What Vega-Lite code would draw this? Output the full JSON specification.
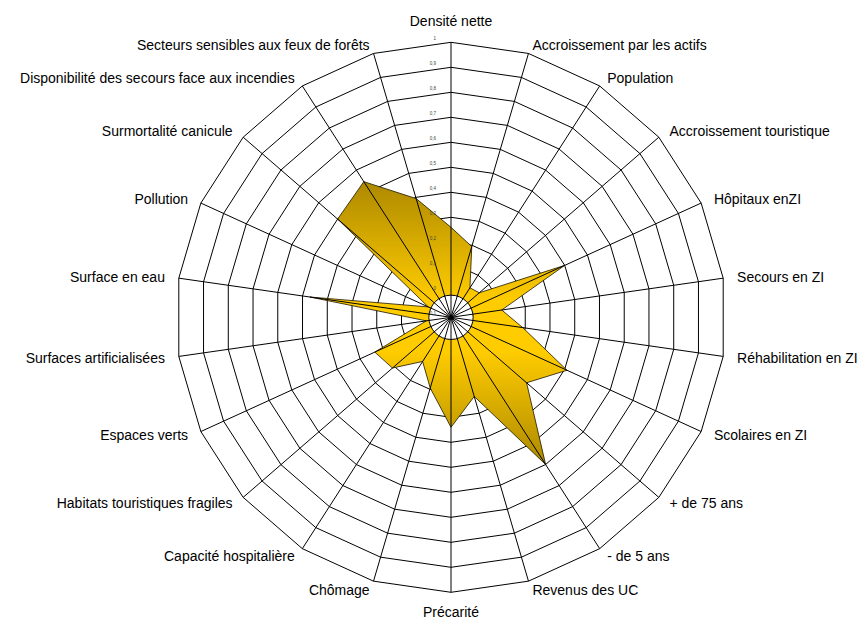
{
  "$schema": "https://vega.github.io/schema/vega-lite/v6.json",
  "width": 859,
  "height": 621,
  "padding": 0,
  "autosize": "none",
  "background": "white",
  "config": {"view": {"stroke": null}},
  "datasets": {
    "scores": [
      {"axis": "Densité nette", "i": 0, "value": 0.26},
      {"axis": "Accroissement par les actifs", "i": 1, "value": 0.195},
      {"axis": "Population", "i": 2, "value": 0.04},
      {"axis": "Accroissement touristique", "i": 3, "value": 0.05},
      {"axis": "Hôpitaux enZI", "i": 4, "value": 0.4},
      {"axis": "Secours en ZI", "i": 5, "value": 0.105},
      {"axis": "Réhabilitation en ZI", "i": 6, "value": 0.19},
      {"axis": "Scolaires en ZI", "i": 7, "value": 0.41},
      {"axis": "+ de 75 ans", "i": 8, "value": 0.3},
      {"axis": "- de 5 ans", "i": 9, "value": 0.6},
      {"axis": "Revenus des UC", "i": 10, "value": 0.23},
      {"axis": "Précarité", "i": 11, "value": 0.34},
      {"axis": "Chômage", "i": 12, "value": 0.195},
      {"axis": "Capacité hospitalière", "i": 13, "value": 0.11},
      {"axis": "Habitats touristiques fragiles", "i": 14, "value": 0.21},
      {"axis": "Espaces verts", "i": 15, "value": 0.235},
      {"axis": "Surfaces artificialisées", "i": 16, "value": 0.0},
      {"axis": "Surface en eau", "i": 17, "value": 0.47},
      {"axis": "Pollution", "i": 18, "value": 0.0},
      {"axis": "Surmortalité canicule", "i": 19, "value": 0.5},
      {"axis": "Disponibilité des secours face aux incendies", "i": 20, "value": 0.545},
      {"axis": "Secteurs sensibles aux feux de forêts", "i": 21, "value": 0.395}
    ],
    "grid": [
      {"level": 0, "i": [0,1,2,3,4,5,6,7,8,9,10,11,12,13,14,15,16,17,18,19,20,21]},
      {"level": 0.1, "i": [0,1,2,3,4,5,6,7,8,9,10,11,12,13,14,15,16,17,18,19,20,21]},
      {"level": 0.2, "i": [0,1,2,3,4,5,6,7,8,9,10,11,12,13,14,15,16,17,18,19,20,21]},
      {"level": 0.3, "i": [0,1,2,3,4,5,6,7,8,9,10,11,12,13,14,15,16,17,18,19,20,21]},
      {"level": 0.4, "i": [0,1,2,3,4,5,6,7,8,9,10,11,12,13,14,15,16,17,18,19,20,21]},
      {"level": 0.5, "i": [0,1,2,3,4,5,6,7,8,9,10,11,12,13,14,15,16,17,18,19,20,21]},
      {"level": 0.6, "i": [0,1,2,3,4,5,6,7,8,9,10,11,12,13,14,15,16,17,18,19,20,21]},
      {"level": 0.7, "i": [0,1,2,3,4,5,6,7,8,9,10,11,12,13,14,15,16,17,18,19,20,21]},
      {"level": 0.8, "i": [0,1,2,3,4,5,6,7,8,9,10,11,12,13,14,15,16,17,18,19,20,21]},
      {"level": 0.9, "i": [0,1,2,3,4,5,6,7,8,9,10,11,12,13,14,15,16,17,18,19,20,21]},
      {"level": 1, "i": [0,1,2,3,4,5,6,7,8,9,10,11,12,13,14,15,16,17,18,19,20,21]}
    ],
    "ticks": [
      {"level": -0.1, "label": "-0,1"},
      {"level": 0, "label": "0"},
      {"level": 0.1, "label": "0,1"},
      {"level": 0.2, "label": "0,2"},
      {"level": 0.3, "label": "0,3"},
      {"level": 0.4, "label": "0,4"},
      {"level": 0.5, "label": "0,5"},
      {"level": 0.6, "label": "0,6"},
      {"level": 0.7, "label": "0,7"},
      {"level": 0.8, "label": "0,8"},
      {"level": 0.9, "label": "0,9"},
      {"level": 1, "label": "1"}
    ]
  },
  "encoding": {
    "x": {"field": "X", "type": "quantitative", "scale": {"domain": [-1.804, 1.632], "nice": false, "zero": false}, "axis": null},
    "y": {"field": "Y", "type": "quantitative", "scale": {"domain": [-1.2148, 1.2692], "nice": false, "zero": false}, "axis": null}
  },
  "layer": [
    {
      "data": {"name": "grid"},
      "transform": [
        {"flatten": ["i"]},
        {"calculate": "datum.i * 2 * PI / 22", "as": "a"},
        {"calculate": "(datum.level + 0.1) * sin(datum.a)", "as": "X"},
        {"calculate": "(datum.level + 0.1) * cos(datum.a)", "as": "Y"}
      ],
      "mark": {"type": "line", "interpolate": "linear-closed", "stroke": "#000000", "strokeWidth": 1},
      "encoding": {
        "detail": {"field": "level", "type": "nominal"},
        "order": {"field": "i", "type": "quantitative"}
      }
    },
    {
      "data": {"name": "scores"},
      "transform": [
        {"calculate": "datum.i * 2 * PI / 22", "as": "a"},
        {"calculate": "(datum.value + 0.1) * sin(datum.a)", "as": "X"},
        {"calculate": "(datum.value + 0.1) * cos(datum.a)", "as": "Y"}
      ],
      "mark": {
        "type": "line",
        "interpolate": "linear-closed",
        "fill": {
          "gradient": "linear",
          "x1": 0, "y1": 0, "x2": 0, "y2": 1,
          "stops": [
            {"offset": 0, "color": "#AD8900"},
            {"offset": 0.42, "color": "#FFCC00"},
            {"offset": 0.6, "color": "#FFCC00"},
            {"offset": 1, "color": "#AD8900"}
          ]
        },
        "stroke": "#1a1400",
        "strokeWidth": 0.8
      },
      "encoding": {
        "order": {"field": "i", "type": "quantitative"}
      }
    },
    {
      "data": {"values": [{"X": 0, "Y": 0}]},
      "mark": {"type": "point", "shape": "circle", "size": 1963, "filled": true, "fill": "#ffffff", "stroke": "#000000", "strokeWidth": 1, "opacity": 1}
    },
    {
      "data": {"name": "scores"},
      "transform": [
        {"calculate": "datum.i * 2 * PI / 22", "as": "a"},
        {"calculate": "0", "as": "X"},
        {"calculate": "0", "as": "Y"},
        {"calculate": "1.1 * sin(datum.a)", "as": "EX"},
        {"calculate": "1.1 * cos(datum.a)", "as": "EY"}
      ],
      "mark": {"type": "rule", "stroke": "#000000", "strokeWidth": 1},
      "encoding": {
        "x2": {"field": "EX"},
        "y2": {"field": "EY"}
      }
    },
    {
      "data": {"name": "ticks"},
      "transform": [
        {"calculate": "0", "as": "X"},
        {"calculate": "datum.level + 0.1", "as": "Y"}
      ],
      "mark": {"type": "text", "align": "right", "baseline": "bottom", "dx": -15, "dy": -1, "fontSize": 4.5, "font": "Liberation Sans", "fill": "#444444"},
      "encoding": {
        "text": {"field": "label"}
      }
    },
    {
      "data": {"name": "scores"},
      "transform": [
        {"filter": "datum.i > 0 && datum.i < 11"},
        {"calculate": "datum.i * 2 * PI / 22", "as": "a"},
        {"calculate": "1.156 * sin(datum.a)", "as": "X"},
        {"calculate": "1.136 * cos(datum.a)", "as": "Y"}
      ],
      "mark": {"type": "text", "align": "left", "baseline": "middle", "dy": 1, "fontSize": 14, "font": "Liberation Sans", "fill": "#000000"},
      "encoding": {
        "text": {"field": "axis"}
      }
    },
    {
      "data": {"name": "scores"},
      "transform": [
        {"filter": "datum.i > 11"},
        {"calculate": "datum.i * 2 * PI / 22", "as": "a"},
        {"calculate": "1.156 * sin(datum.a)", "as": "X"},
        {"calculate": "1.136 * cos(datum.a)", "as": "Y"}
      ],
      "mark": {"type": "text", "align": "right", "baseline": "middle", "dy": 1, "fontSize": 14, "font": "Liberation Sans", "fill": "#000000"},
      "encoding": {
        "text": {"field": "axis"}
      }
    },
    {
      "data": {"name": "scores"},
      "transform": [
        {"filter": "datum.i == 0"},
        {"calculate": "0", "as": "X"},
        {"calculate": "1.156", "as": "Y"}
      ],
      "mark": {"type": "text", "align": "center", "baseline": "bottom", "dy": 1, "fontSize": 14, "font": "Liberation Sans", "fill": "#000000"},
      "encoding": {
        "text": {"field": "axis"}
      }
    },
    {
      "data": {"name": "scores"},
      "transform": [
        {"filter": "datum.i == 11"},
        {"calculate": "0", "as": "X"},
        {"calculate": "-1.156", "as": "Y"}
      ],
      "mark": {"type": "text", "align": "center", "baseline": "top", "dy": 0, "fontSize": 14, "font": "Liberation Sans", "fill": "#000000"},
      "encoding": {
        "text": {"field": "axis"}
      }
    }
  ]
}
